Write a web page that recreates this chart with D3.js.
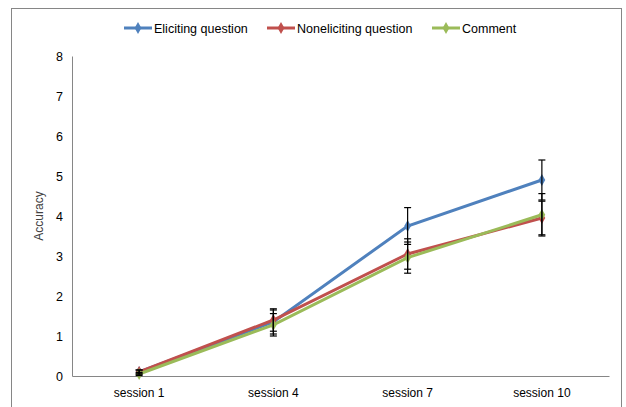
<!DOCTYPE html>
<html>
<head>
<meta charset="utf-8">
<script src="https://cdn.jsdelivr.net/npm/d3@7"></script>
<style>
  body { margin: 0; background: #fff; }
  text { font-family: "Liberation Sans Narrow", "Liberation Sans", Arial, sans-serif; fill: #000; }
</style>
</head>
<body>
<div id="chart"></div>
<script>
var width = 626,
  height = 407;

var sessions = ["session 1", "session 4", "session 7", "session 10"];
var seriesNames = ["Eliciting question", "Noneliciting question", "Comment"];
var seriesColors = ["#4f81bd", "#c0504d", "#9bbb59"];
var eliciting = [0.1, 1.35, 3.75, 4.9];
var elicitingErr = [0.05, 0.3, 0.46, 0.5];
var noneliciting = [0.1, 1.4, 3.05, 3.95];
var nonelicitingErr = [0.05, 0.28, 0.38, 0.42];
var comment = [0.05, 1.28, 2.96, 4.03];
var commentErr = [0.04, 0.28, 0.39, 0.53];
var yTicks = [0, 1, 2, 3, 4, 5, 6, 7, 8];

var series = [
  { name: seriesNames[0], color: seriesColors[0], values: eliciting, err: elicitingErr },
  { name: seriesNames[1], color: seriesColors[1], values: noneliciting, err: nonelicitingErr },
  { name: seriesNames[2], color: seriesColors[2], values: comment, err: commentErr }
];

var svg = d3.select("#chart")
  .append("svg")
  .attr("width", width)
  .attr("height", height);

// outer frame
svg.append("rect")
  .attr("x", 11.5).attr("y", 8.5)
  .attr("width", 610).attr("height", 420)
  .attr("fill", "none")
  .attr("stroke", "#868686")
  .attr("stroke-width", 1);

var x = d3.scaleBand().domain(sessions).range([72, 609]);
var y = d3.scaleLinear().domain([0, 8]).range([376, 56]);

// y axis
var yAxis = svg.append("g").attr("transform", "translate(72,0)")
  .call(d3.axisLeft(y).tickValues(yTicks).tickSize(0).tickPadding(9));
yAxis.select(".domain").attr("stroke", "#868686");
yAxis.selectAll("text").style("font-size", "12.5px");

// x axis
var xAxis = svg.append("g").attr("transform", "translate(0,376)")
  .call(d3.axisBottom(x).tickSize(0).tickPadding(12));
xAxis.select(".domain").attr("stroke", "#868686");
xAxis.selectAll("text").style("font-size", "12px");

svg.append("text")
  .attr("transform", "translate(43,216) rotate(-90)")
  .attr("text-anchor", "middle")
  .style("font-size", "12px")
  .style("fill", "#404040")
  .text("Accuracy");

var line = d3.line()
  .x(function(d, i) { return x(sessions[i]) + x.bandwidth() / 2; })
  .y(function(d) { return y(d); });

var diamond = d3.symbol().type(d3.symbolDiamond).size(40);

series.forEach(function(s) {
  svg.append("path")
    .attr("d", line(s.values))
    .attr("fill", "none")
    .attr("stroke", s.color)
    .attr("stroke-width", 3);

  svg.selectAll(null)
    .data(s.values)
    .enter().append("path")
    .attr("d", diamond)
    .attr("transform", function(d, i) {
      return "translate(" + (x(sessions[i]) + x.bandwidth() / 2) + "," + y(d) + ")";
    })
    .attr("fill", s.color);
});

// error bars
series.forEach(function(s) {
  var g = svg.append("g").attr("stroke", "#000").attr("stroke-width", 1.2);
  s.values.forEach(function(v, i) {
    var cx = x(sessions[i]) + x.bandwidth() / 2;
    var hi = y(v + s.err[i]), lo = y(v - s.err[i]);
    g.append("line").attr("x1", cx).attr("x2", cx).attr("y1", hi).attr("y2", lo);
    g.append("line").attr("x1", cx - 3.5).attr("x2", cx + 3.5).attr("y1", hi).attr("y2", hi);
    g.append("line").attr("x1", cx - 3.5).attr("x2", cx + 3.5).attr("y1", lo).attr("y2", lo);
  });
});

// legend
var legendX = [124, 267, 432];
var legend = svg.selectAll(".legend")
  .data(series)
  .enter().append("g")
  .attr("class", "legend")
  .attr("transform", function(d, i) { return "translate(" + legendX[i] + ",28)"; });

legend.append("line")
  .attr("x1", 0).attr("x2", 28)
  .attr("stroke", function(d) { return d.color; })
  .attr("stroke-width", 3);
legend.append("path")
  .attr("d", diamond)
  .attr("transform", "translate(14,0)")
  .attr("fill", function(d) { return d.color; });
legend.append("text")
  .attr("x", 30).attr("y", 4.5)
  .style("font-size", "12.5px")
  .text(function(d) { return d.name; });
</script>
</body>
</html>
